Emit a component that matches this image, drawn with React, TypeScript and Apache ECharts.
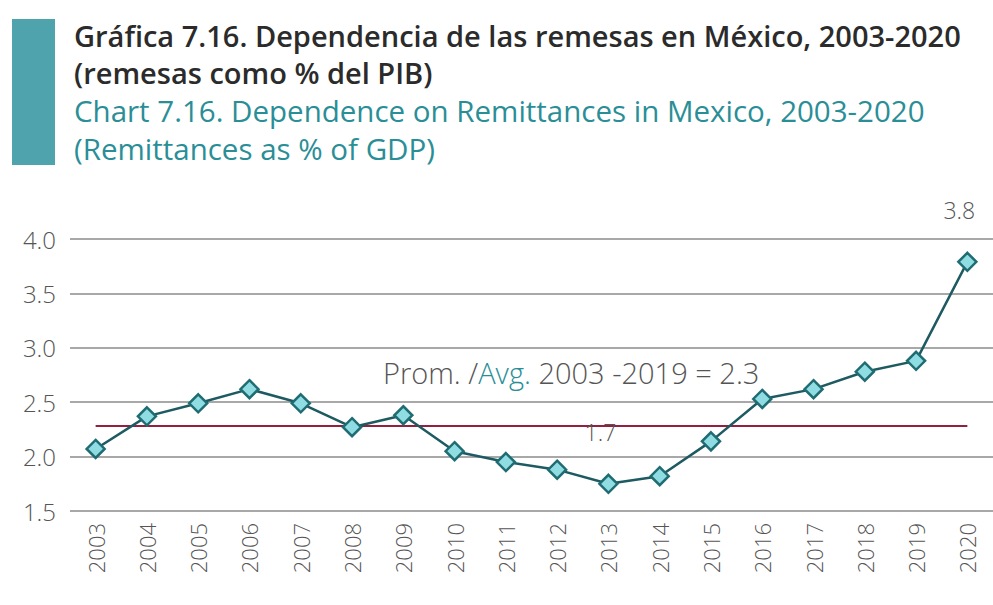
import React, { useEffect, useRef } from "react";
import * as echarts from "echarts";

const years = ["2003","2004","2005","2006","2007","2008","2009","2010","2011","2012","2013","2014","2015","2016","2017","2018","2019","2020"];
const remittances = [2.07, 2.37, 2.49, 2.62, 2.49, 2.27, 2.38, 2.05, 1.95, 1.88, 1.75, 1.82, 2.14, 2.53, 2.62, 2.78, 2.88, 3.79];
const labelled = ["1.7", "3.8"];
const labelledYears = ["2013", "2020"];
const avgValue = 2.28;
const yTicks = { min: 1.5, max: 4.0, interval: 0.5 };

const titleLines = [
  "Gráfica 7.16. Dependencia de las remesas en México, 2003-2020",
  "(remesas como % del PIB)",
  "Chart 7.16. Dependence on Remittances in Mexico, 2003-2020",
  "(Remittances as % of GDP)",
];

const FONT = "'Open Sans', sans-serif";

export default function App() {
  const ref = useRef<HTMLDivElement>(null);
  useEffect(() => {
    document.body.style.margin = "0";
    const chart = echarts.init(ref.current!, null, { renderer: "svg" });
    const data = remittances.map((v, i) => {
      const li = labelledYears.indexOf(years[i]);
      if (li >= 0) {
        return {
          value: v,
          label: {
            show: true,
            position: "top",
            distance: 30,
            formatter: labelled[li],
            color: "#555",
            fontSize: 23,
            fontFamily: FONT,
            fontWeight: 300,
            offset: [-8, 0],
          },
        };
      }
      return v;
    });
    chart.setOption({
      animation: false,
      backgroundColor: "#ffffff",
      grid: { left: 70, right: 0, top: 239, bottom: 94 },
      graphic: [
        { type: "rect", shape: { x: 12, y: 19, width: 43, height: 146 }, style: { fill: "#4fa3ad" } },
        { type: "text", x: 74, y: 35, style: { text: titleLines[0], font: `600 29px ${FONT}`, fill: "#2b2b2b", textVerticalAlign: "middle" } },
        { type: "text", x: 74, y: 72, style: { text: titleLines[1], font: `600 29px ${FONT}`, fill: "#2b2b2b", textVerticalAlign: "middle" } },
        { type: "text", x: 74, y: 110, style: { text: titleLines[2], font: `500 29.5px ${FONT}`, fill: "#2a8e97", textVerticalAlign: "middle" } },
        { type: "text", x: 74, y: 148, style: { text: titleLines[3], font: `500 29.5px ${FONT}`, fill: "#2a8e97", textVerticalAlign: "middle" } },
        {
          type: "text",
          x: 383,
          y: 372,
          style: {
            text: "{a|Prom. /}{b|Avg.}{a| 2003 -2019 = 2.3}",
            textVerticalAlign: "middle",
            rich: {
              a: { fontSize: 29, fontFamily: FONT, fontWeight: 300, fill: "#555", color: "#555" },
              b: { fontSize: 29, fontFamily: FONT, fontWeight: 300, fill: "#2a8e97", color: "#2a8e97" },
            },
          },
        },
      ],
      xAxis: {
        type: "category",
        data: years,
        boundaryGap: true,
        axisLine: { show: false },
        axisTick: { show: false },
        axisLabel: { rotate: 90, color: "#555", fontSize: 22, fontFamily: FONT, fontWeight: 300, margin: 12 },
      },
      yAxis: {
        type: "value",
        min: yTicks.min,
        max: yTicks.max,
        interval: yTicks.interval,
        axisLine: { show: false },
        axisTick: { show: false },
        splitLine: { lineStyle: { color: "#a8a8a8", width: 2 } },
        axisLabel: { color: "#555", fontSize: 24, fontFamily: FONT, fontWeight: 300, margin: 14, formatter: (v: number) => v.toFixed(1) },
      },
      series: [
        {
          type: "line",
          data,
          symbol: "diamond",
          symbolSize: 18,
          lineStyle: { color: "#1d5a61", width: 2.5 },
          itemStyle: { color: "#8fdde3", borderColor: "#1f6d73", borderWidth: 2.5 },
          z: 3,
          markLine: {
            silent: true,
            symbol: "none",
            label: { show: false },
            lineStyle: { color: "#93203f", width: 2, type: "solid" },
            data: [[{ coord: [years[0], avgValue] }, { coord: [years[years.length - 1], avgValue] }]],
            z: 2,
          },
        },
      ],
    });
    return () => chart.dispose();
  }, []);
  return <div ref={ref} style={{ width: 993, height: 605 }} />;
}
